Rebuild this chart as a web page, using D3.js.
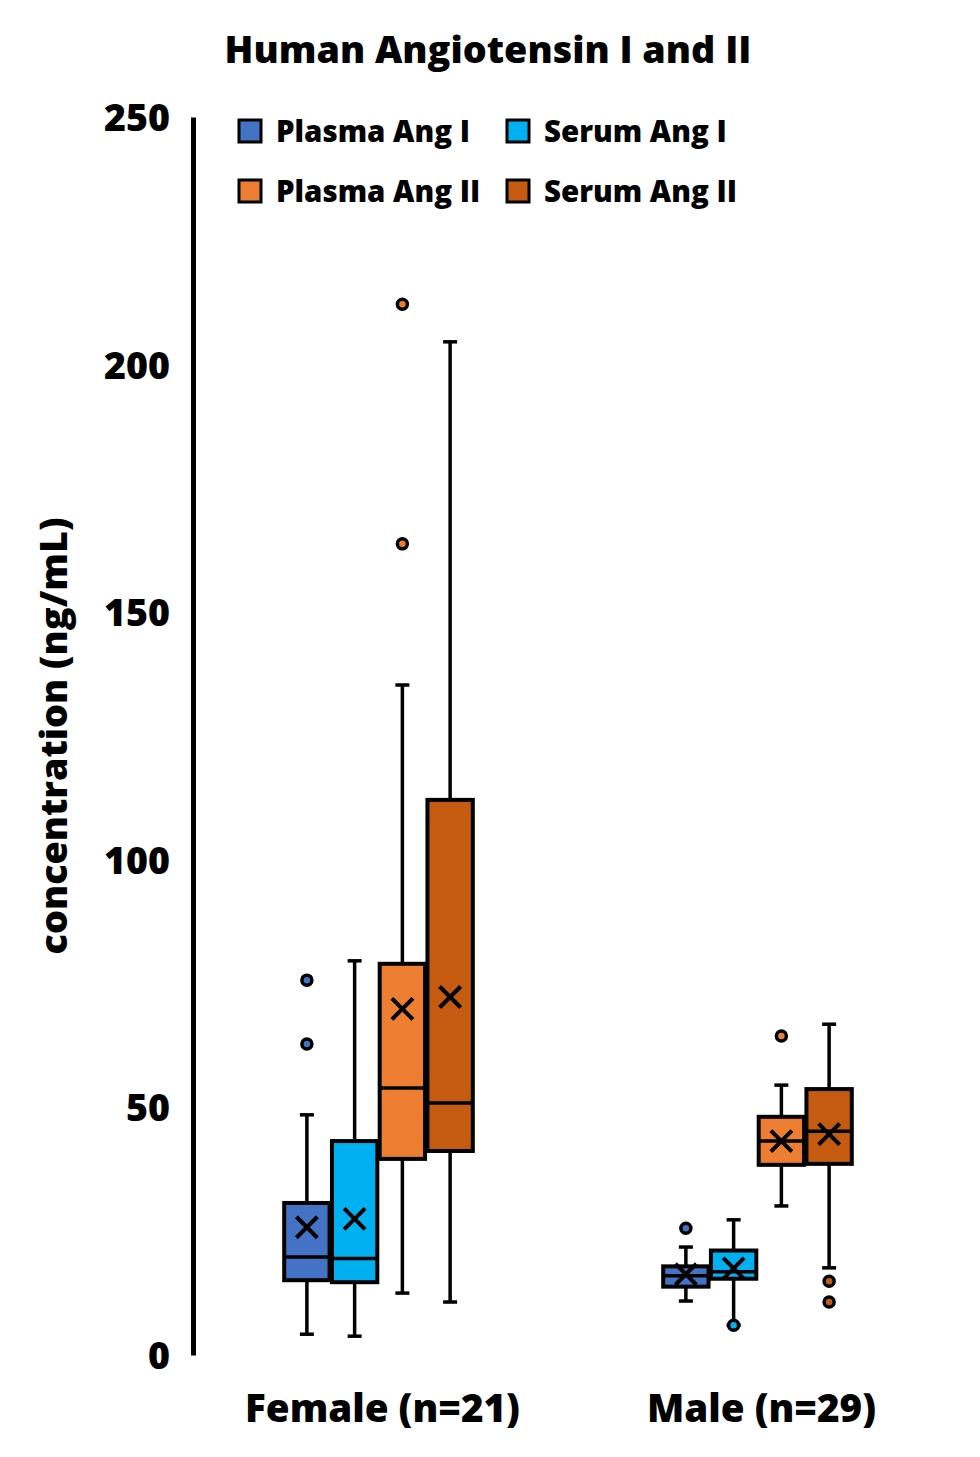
<!DOCTYPE html>
<html>
<head>
<meta charset="utf-8">
<script src="https://cdn.jsdelivr.net/npm/d3@7"></script>
<style>
  body { margin: 0; background: #fff; }
  text { font-family: "Open Sans", Lato, sans-serif; font-weight: 800; fill: #000; }
</style>
</head>
<body>
<svg id="chart"></svg>
<script>
var groups = ['Female (n=21)', 'Male (n=29)'];
var series = ['Plasma Ang I', 'Serum Ang I', 'Plasma Ang II', 'Serum Ang II'];
var seriesColors = ['#4472C4', '#00B0F0', '#ED7D31', '#C55A11'];
var yTicks = [0, 50, 100, 150, 200, 250];

// [low whisker, q1, median, q3, high whisker] per series
var femaleStats = [
  [4.2, 15.1, 19.8, 30.7, 48.5],
  [3.8, 14.7, 19.5, 43.2, 79.6],
  [12.5, 39.6, 53.9, 79.0, 135.3],
  [10.7, 41.2, 50.9, 112.1, 204.6]
];
var maleStats = [
  [10.9, 13.8, 16.0, 17.9, 21.8],
  [6.0, 15.4, 16.8, 21.1, 27.3],
  [30.1, 38.4, 43.2, 48.1, 54.5],
  [17.6, 38.6, 45.2, 53.7, 66.8]
];
var femaleMeans = [25.8, 27.5, 69.9, 72.3];
var maleMeans = [16.3, 17.5, 43.2, 44.6];
var femaleOutliers = [[75.7, 62.8], [], [212.2, 163.8], []];
var maleOutliers = [[25.6], [6.0], [64.4], [14.9, 10.7]];

var width = 980;
var height = 1457;

var svg = d3.select('#chart')
  .attr('width', width)
  .attr('height', height);

// scale a text's font size so that it spans the wanted width
function fitText(sel, target) {
  sel.each(function() {
    var size = parseFloat(this.style.fontSize);
    var w = this.getComputedTextLength();
    if (w > 0) d3.select(this).style('font-size', (size * target / w) + 'px');
  });
}

// build rows for drawing
var boxes = [];
[[femaleStats, femaleMeans, femaleOutliers], [maleStats, maleMeans, maleOutliers]].forEach(function(g, gi) {
  series.forEach(function(s, si) {
    var st = g[0][si];
    boxes.push({
      group: groups[gi], series: s,
      low: st[0], q1: st[1], median: st[2], q3: st[3], high: st[4],
      mean: g[1][si], outliers: g[2][si]
    });
  });
});

var y = d3.scaleLinear()
  .domain([0, 250])
  .range([1355, 117]);

var groupScale = d3.scaleBand()
  .domain(groups)
  .range([189, 947]);

var seriesScale = d3.scaleBand()
  .domain(series)
  .range([-95.5, 95.5])
  .paddingInner(0.05)
  .paddingOuter(0.025);

var color = d3.scaleOrdinal()
  .domain(series)
  .range(seriesColors);

function cx(d) {
  return groupScale(d.group) + groupScale.bandwidth() / 2 + seriesScale(d.series) + seriesScale.bandwidth() / 2;
}

// title
svg.append('text')
  .attr('x', 488)
  .attr('y', 63)
  .attr('text-anchor', 'middle')
  .style('font-size', '36px')
  .text('Human Angiotensin I and II')
  .call(fitText, 527);

// y axis
var yAxis = svg.append('g')
  .attr('transform', 'translate(193,0)')
  .call(d3.axisLeft(y).tickValues(yTicks).tickSize(0).tickPadding(23));
yAxis.select('.domain').attr('stroke', '#000').attr('stroke-width', 5);
yAxis.selectAll('text')
  .attr('font-family', null)
  .attr('font-size', null)
  .style('font-size', '37px')
  .attr('dy', '0.36em');
yAxis.selectAll('.tick').filter(function(d) { return d === 250; }).select('text')
  .call(fitText, 66);
var tickSize = yAxis.selectAll('.tick').filter(function(d) { return d === 250; }).select('text').style('font-size');
yAxis.selectAll('text').style('font-size', tickSize);

svg.append('text')
  .attr('transform', 'translate(67,736) rotate(-90)')
  .attr('text-anchor', 'middle')
  .style('font-size', '36px')
  .text('concentration (ng/mL)')
  .call(fitText, 437);

// group labels
svg.selectAll('.group-label')
  .data(groups)
  .enter().append('text')
    .attr('class', 'group-label')
    .attr('x', function(d) { return groupScale(d) + groupScale.bandwidth() / 2 + 4; })
    .attr('y', 1422)
    .attr('text-anchor', 'middle')
    .style('font-size', '38px')
    .text(function(d) { return d; });
fitText(svg.selectAll('.group-label').filter(function(d, i) { return i === 0; }), 275);
svg.selectAll('.group-label').style('font-size', svg.select('.group-label').style('font-size'));

var box = svg.append('g').selectAll('g')
  .data(boxes)
  .enter().append('g');

var capHalf = 7;

// whiskers
box.append('line')
  .attr('x1', cx).attr('x2', cx)
  .attr('y1', function(d) { return y(d.high); })
  .attr('y2', function(d) { return y(d.low); })
  .attr('stroke', '#000').attr('stroke-width', 3.5);
box.append('line')
  .attr('x1', function(d) { return cx(d) - capHalf; })
  .attr('x2', function(d) { return cx(d) + capHalf; })
  .attr('y1', function(d) { return y(d.high); })
  .attr('y2', function(d) { return y(d.high); })
  .attr('stroke', '#000').attr('stroke-width', 3.5);
box.append('line')
  .attr('x1', function(d) { return cx(d) - capHalf; })
  .attr('x2', function(d) { return cx(d) + capHalf; })
  .attr('y1', function(d) { return y(d.low); })
  .attr('y2', function(d) { return y(d.low); })
  .attr('stroke', '#000').attr('stroke-width', 3.5);

// box
box.append('rect')
  .attr('x', function(d) { return cx(d) - seriesScale.bandwidth() / 2; })
  .attr('width', seriesScale.bandwidth())
  .attr('y', function(d) { return y(d.q3); })
  .attr('height', function(d) { return y(d.q1) - y(d.q3); })
  .attr('fill', function(d) { return color(d.series); })
  .attr('stroke', '#000')
  .attr('stroke-width', 4);

// median
box.append('line')
  .attr('x1', function(d) { return cx(d) - seriesScale.bandwidth() / 2; })
  .attr('x2', function(d) { return cx(d) + seriesScale.bandwidth() / 2; })
  .attr('y1', function(d) { return y(d.median); })
  .attr('y2', function(d) { return y(d.median); })
  .attr('stroke', '#000').attr('stroke-width', 3.5);

// mean marker
var m = 10.5;
box.append('path')
  .attr('d', function(d) {
    var x0 = cx(d), y0 = y(d.mean);
    return 'M' + (x0 - m) + ',' + (y0 - m) + 'L' + (x0 + m) + ',' + (y0 + m) +
      'M' + (x0 - m) + ',' + (y0 + m) + 'L' + (x0 + m) + ',' + (y0 - m);
  })
  .attr('stroke', '#000').attr('stroke-width', 4).attr('fill', 'none');

// outliers
box.selectAll('circle')
  .data(function(d) {
    return d.outliers.map(function(v) { return { value: v, parent: d }; });
  })
  .enter().append('circle')
    .attr('cx', function(d) { return cx(d.parent); })
    .attr('cy', function(d) { return y(d.value); })
    .attr('r', 5)
    .attr('fill', function(d) { return color(d.parent.series); })
    .attr('stroke', '#000')
    .attr('stroke-width', 3.5);

// legend
var legend = svg.append('g').selectAll('g')
  .data(series)
  .enter().append('g')
    .attr('transform', function(d, i) {
      var col = i % 2, row = Math.floor(i / 2);
      return 'translate(' + (239 + col * 268) + ',' + (131 + row * 60) + ')';
    });
legend.append('rect')
  .attr('x', 0).attr('y', -11)
  .attr('width', 22).attr('height', 22)
  .attr('fill', function(d) { return color(d); })
  .attr('stroke', '#000').attr('stroke-width', 3);
legend.append('text')
  .attr('class', 'legend-label')
  .attr('x', 37)
  .attr('y', 11)
  .style('font-size', '31px')
  .text(function(d) { return d; });
fitText(svg.select('.legend-label'), 194);
svg.selectAll('.legend-label').style('font-size', svg.select('.legend-label').style('font-size'));
</script>
</body>
</html>
